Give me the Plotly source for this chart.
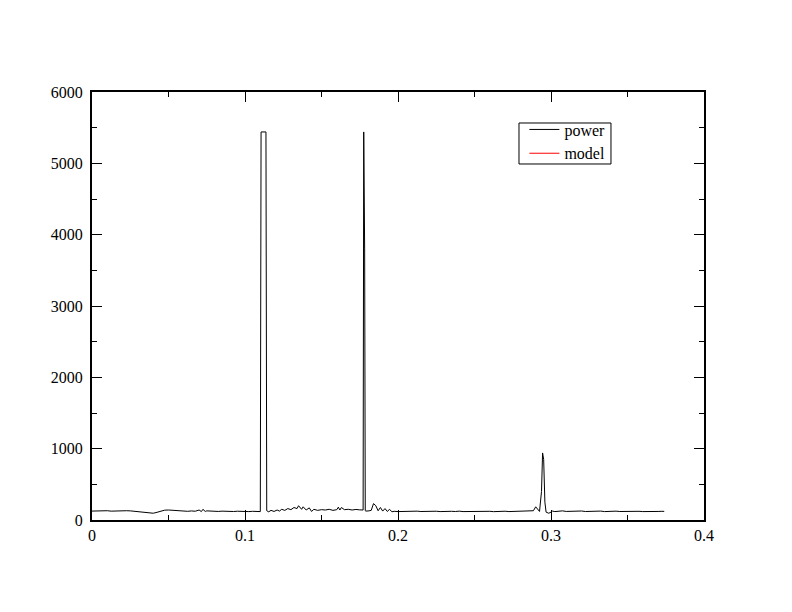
import plotly.graph_objects as go

freq = [0.0, 0.0025, 0.005, 0.0075, 0.01, 0.0125, 0.015, 0.0175, 0.02, 0.0225,
        0.025, 0.0275, 0.03, 0.0325, 0.035, 0.0375, 0.04, 0.0425, 0.045, 0.0475,
        0.05, 0.0525, 0.055, 0.0575, 0.06, 0.0625, 0.065, 0.0675, 0.07, 0.0715,
        0.0725, 0.074, 0.075, 0.0775, 0.08, 0.0825, 0.085, 0.0875, 0.09, 0.0925,
        0.095, 0.0975, 0.1, 0.1025, 0.105, 0.1075, 0.11, 0.1105, 0.1137, 0.1142,
        0.1155, 0.117, 0.119, 0.121, 0.1225, 0.124, 0.126, 0.128, 0.13, 0.132,
        0.134, 0.135, 0.137, 0.138, 0.14, 0.142, 0.1435, 0.145, 0.1475, 0.15,
        0.1525, 0.155, 0.1575, 0.16, 0.161, 0.162, 0.163, 0.165, 0.1675, 0.17,
        0.1725, 0.175, 0.1772, 0.1776, 0.1782, 0.1786, 0.179, 0.181, 0.1825, 0.184,
        0.1855, 0.187, 0.1885, 0.19, 0.1915, 0.193, 0.1945, 0.196, 0.1975, 0.2,
        0.2025, 0.205, 0.2075, 0.21, 0.2125, 0.215, 0.2175, 0.22, 0.2225, 0.225,
        0.2275, 0.23, 0.2325, 0.235, 0.2375, 0.24, 0.2425, 0.245, 0.2475, 0.25,
        0.2525, 0.255, 0.2575, 0.26, 0.2625, 0.265, 0.2675, 0.27, 0.2725, 0.275,
        0.2775, 0.28, 0.2825, 0.285, 0.2885, 0.29, 0.2915, 0.2925, 0.2938, 0.2945,
        0.2952, 0.296, 0.2968, 0.2985, 0.3, 0.301, 0.3025, 0.305, 0.3075, 0.31,
        0.3125, 0.315, 0.3175, 0.32, 0.3225, 0.325, 0.3275, 0.33, 0.3325, 0.335,
        0.3375, 0.34, 0.3425, 0.345, 0.3475, 0.35, 0.3525, 0.355, 0.3575, 0.36,
        0.3625, 0.365, 0.3675, 0.37, 0.3725, 0.374]

power = [125, 128, 122, 126, 130, 124, 127, 121, 125, 130,
         128, 122, 126, 118, 112, 100, 95, 108, 122, 138,
         140, 135, 132, 128, 125, 122, 127, 123, 140, 118,
         150, 120, 128, 122, 126, 120, 124, 121, 125, 119,
         123, 120, 124, 118, 122, 120, 118, 5440, 5440, 130,
         115, 135, 120, 140, 125, 150, 135, 160, 145, 175,
         160, 200, 150, 185, 140, 170, 120, 150, 135, 145,
         140, 150, 135, 145, 180, 140, 175, 145, 150, 140,
         148, 142, 140, 5440, 3800, 130, 125, 128, 135, 230,
         200, 130, 175, 125, 160, 120, 150, 115, 122, 118,
         120, 116, 122, 118, 124, 119, 121, 115, 120, 123,
         118, 121, 117, 122, 119, 124, 118, 120, 116, 121,
         124, 118, 120, 122, 117, 121, 119, 123, 118, 120,
         122, 117, 121, 119, 130, 185, 135, 120, 400, 940,
         850, 250, 110, 95, 110, 125, 118, 122, 128, 120,
         124, 118, 122, 126, 119, 123, 117, 121, 125, 118,
         122, 120, 124, 119, 121, 118, 123, 120, 122, 118,
         121, 119, 123, 120, 122, 121]

FONT = "Liberation Serif, Times New Roman, serif"

fig = go.Figure()
fig.add_trace(go.Scatter(x=freq, y=power, mode="lines", name="power",
                         line=dict(color="black", width=1)))
fig.add_trace(go.Scatter(x=[None], y=[None], mode="lines", name="model",
                         line=dict(color="red", width=1)))

axis_common = dict(showgrid=False, zeroline=False, showline=True, linecolor="black",
                   linewidth=2, mirror="ticks", ticks="inside", ticklen=10,
                   tickcolor="black", tickwidth=1, automargin=False,
                   tickfont=dict(family=FONT, size=16, color="black"))

fig.update_xaxes(range=[0, 0.4], tick0=0, dtick=0.1,
                 minor=dict(ticks="inside", ticklen=5, dtick=0.05, tickcolor="black"),
                 **axis_common)
fig.update_yaxes(range=[0, 6000], tick0=0, dtick=1000, tickformat="d",
                 ticklabelstandoff=4,
                 minor=dict(ticks="inside", ticklen=5, dtick=500, tickcolor="black"),
                 **axis_common)

fig.add_shape(type="rect", xref="paper", yref="paper",
              x0=0.6977, x1=0.848, y0=0.8318, y1=0.9276,
              line=dict(color="black", width=1), fillcolor="rgba(0,0,0,0)")

fig.update_layout(
    width=784, height=604,
    margin=dict(l=84, r=88, t=84, b=92),
    paper_bgcolor="white", plot_bgcolor="white",
    font=dict(family=FONT, size=16, color="black"),
    showlegend=True,
    legend=dict(x=0.7065, y=0.952, xanchor="left", yanchor="top",
                borderwidth=0, bgcolor="rgba(0,0,0,0)",
                font=dict(family=FONT, size=16, color="black"),
                tracegroupgap=0, itemwidth=30),
)

fig.write_html("out.html")
